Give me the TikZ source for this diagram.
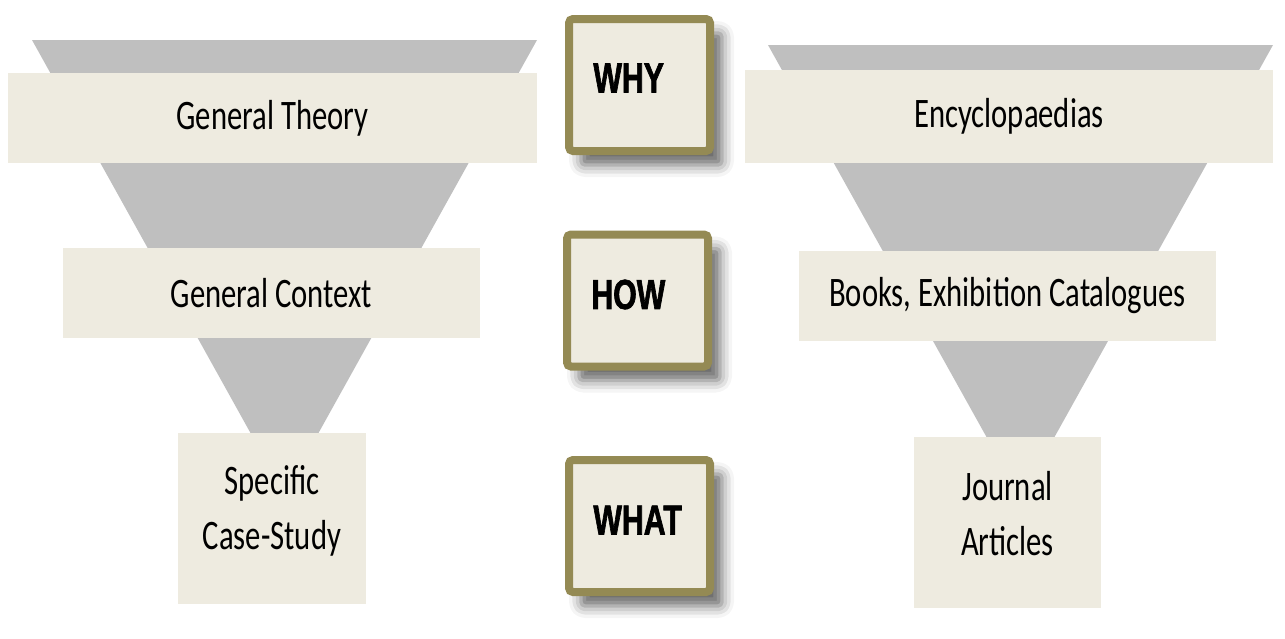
\documentclass[tikz,border=0pt]{standalone}
\usepackage{fontspec}
\setmainfont{Carlito}[FakeStretch=0.73]
\newfontfamily\headfont{Liberation Sans}[FakeStretch=0.72, BoldFeatures={FakeBold=1.5}]
\usepackage{tikz}
\usetikzlibrary{positioning,shadows.blur}
\definecolor{funnelGray}{HTML}{BFBFBF}
\definecolor{bandFill}{HTML}{EEEBE0}
\definecolor{keyOlive}{HTML}{948A54}

\begin{document}
\begin{tikzpicture}[x=0.5pt,y=-0.5pt,
    band/.style={fill=bandFill, inner sep=0pt, align=center,
      font=\fontsize{21}{27.5}\selectfont},
    bandtext/.style={inner sep=0pt, align=center,
      font=\fontsize{21}{27.5}\selectfont},
    keybox/.style={draw=keyOlive, line width=4pt, fill=bandFill,
      rounded corners=2pt, minimum width=70.5pt, minimum height=66pt,
      blur shadow={shadow xshift=6pt, shadow yshift=-7pt,
        shadow blur radius=6pt, shadow opacity=60}},
    keylabel/.style={inner sep=0pt,
      font=\headfont\bfseries\fontsize{21}{24}\selectfont}]
  \useasboundingbox (0,0) rectangle (1285,638);
  % Left funnel
  \fill[funnelGray] (32,40) -- (537,40) -- (318.5,433) -- (250.5,433) -- cycle;
  \node[band, minimum width=264.5pt, minimum height=45pt] (theory) at (272.5,118) {General Theory};
  \node[band, minimum width=208.5pt, minimum height=45pt] (context) at (271.5,293) {General Context};
  \node[band, minimum width=94pt, minimum height=85.5pt] (casestudy) at (272,518.5) {};
  \node[bandtext, yshift=4pt] (casetxt) at (casestudy) {Specific\\Case-Study};
  % Right funnel
  \fill[funnelGray] (768,45) -- (1273,45) -- (1054.5,437) -- (986.5,437) -- cycle;
  \node[band, minimum width=264pt, minimum height=46.5pt] (encyc) at (1009,116.5) {Encyclopaedias};
  \node[band, minimum width=208.5pt, minimum height=45pt] (books) at (1007.5,296) {Books, Exhibition Catalogues};
  \node[band, minimum width=93.5pt, minimum height=85.5pt] (journal) at (1007.5,522.5) {};
  \node[bandtext, yshift=4.5pt] (journaltxt) at (journal) {Journal\\Articles};
  % Key questions in the middle
  \node[keybox] (why) at (639.5,85) {};
  \node[keylabel, right=14pt of why.west, yshift=3.5pt] (whytxt) {WHY};
  \node[keybox] (how) at (637.5,300.5) {};
  \node[keylabel, right=14pt of how.west, yshift=3pt] (howtxt) {HOW};
  \node[keybox] (what) at (639.5,526) {};
  \node[keylabel, right=14pt of what.west, yshift=3pt] (whattxt) {WHAT};
\end{tikzpicture}
\end{document}
